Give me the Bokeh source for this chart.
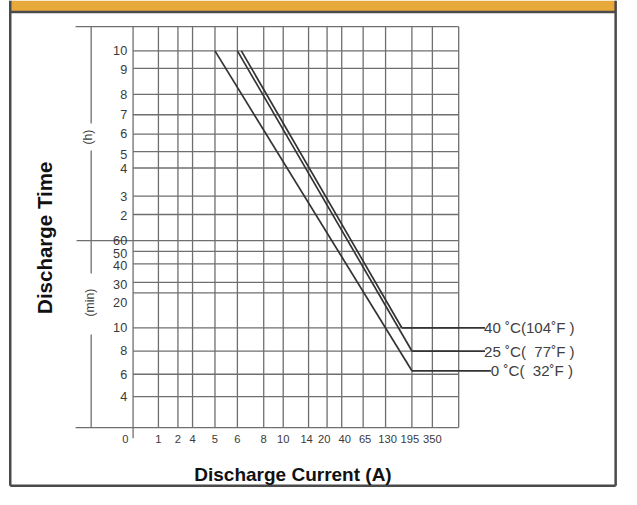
import numpy as np
from bokeh.plotting import figure
from bokeh.models import Range1d
from bokeh.core.properties import value
from bokeh.embed import file_html
from bokeh.resources import INLINE

# ---------------- data ----------------
current_ticks = [0, 1, 2, 4, 5, 6, 8, 10, 14, 20, 40, 65, 130, 195, 350]
current_labels = [str(v) for v in current_ticks]
hour_labels = ["10", "9", "8", "7", "6", "5", "4", "3", "2"]
minute_labels = ["60", "50", "40", "30", "20", "10", "8", "6", "4"]
time_ticks_min = [600, 540, 480, 420, 360, 300, 240, 180, 120,
                  60, 50, 40, 30, 20, 10, 8, 6, 4]

NB = "\u00a0"
series_names = ["40 \u02daC(104\u02daF )",
                "25 \u02daC(" + NB * 2 + "77\u02daF )",
                "0 \u02daC(" + NB * 2 + "32\u02daF )"]
series_current = [[6.3, 170], [6, 195], [5, 195]]
series_time_min = [[600, 10], [600, 8], [600, 6.3]]

# ---------------- layout (reference pixel space) ----------------
grid_x = [136, 162, 182, 197, 220, 243, 270, 290, 316, 335, 350, 372, 395, 422, 443]
grid_right = 470
grid_y = [52, 70, 97, 118, 138, 156, 173, 202, 221,
          248, 259, 272, 291, 302, 338, 362, 386, 409]
grid_top, grid_bottom = 27, 441
x_label_pos = [128, 162, 182, 197, 220, 243, 270, 290, 314, 332, 353, 374, 397, 420, 443]
y_label_pos = [52, 71, 97, 118, 137, 159, 173, 202, 222,
               248, 261, 274, 293, 312, 338, 361, 386, 409]
legend_end_x = [497, 497, 503]
legend_text_x = [496, 496, 503]

W_REF, H_REF = 637, 505
W, H = 621, 489
fs = W / W_REF  # font scale


def px(v):
    return f"{v * fs:.1f}px"


def sx(v):
    return np.interp(v, current_ticks, grid_x)


def sy(t):
    return np.interp(t, time_ticks_min[::-1], grid_y[::-1])


FONT = value("Liberation Sans")
GRID = "#6f6f6f"
DARK = "#333333"
LABEL = "#3a3a3a"

p = figure(width=W, height=H, x_range=Range1d(0, W_REF), y_range=Range1d(H_REF, 0),
           output_backend="svg", toolbar_location=None,
           x_axis_location=None, y_axis_location=None, min_border=0)
p.grid.visible = False
p.outline_line_color = None
p.background_fill_color = "white"
p.border_fill_color = "white"

# header bar and frame
p.quad(left=[10], right=[631], top=[0], bottom=[11], fill_color="#E8A93B", line_color=None)
p.segment(x0=[10, 10, 631, 10], y0=[12, 0, 0, 501], x1=[631, 10, 631, 631], y1=[12, 501, 501, 501],
          line_color="#4a4a4a", line_width=2.5)

# grid
vx = grid_x + [grid_right]
p.segment(x0=vx, y0=[grid_top] * len(vx), x1=vx, y1=[grid_bottom] * len(vx),
          line_color=GRID, line_width=1.3)
p.segment(x0=[grid_x[0]], y0=[grid_bottom], x1=[grid_x[0]], y1=[452],
          line_color=GRID, line_width=1.3)
p.segment(x0=[grid_x[0]] * len(grid_y), y0=grid_y, x1=[grid_right] * len(grid_y), y1=grid_y,
          line_color=GRID, line_width=1.3)
p.segment(x0=[77, 77, 78], y0=[grid_top, grid_bottom, grid_y[9]],
          x1=[grid_right, grid_right, grid_x[0]], y1=[grid_top, grid_bottom, grid_y[9]],
          line_color=GRID, line_width=1.3)
# unit bracket on the left
p.segment(x0=[93, 93, 93], y0=[grid_top, 155, 345], x1=[93, 93, 93], y1=[127, 282, grid_bottom],
          line_color=GRID, line_width=1.3)

# tick labels
y_labels = hour_labels + minute_labels
p.text(x=[130] * len(y_labels), y=y_label_pos, text=y_labels, text_align="right",
       text_baseline="middle", text_font=FONT, text_font_size=px(13), text_color=LABEL)
p.text(x=x_label_pos, y=[453] * len(current_labels), text=current_labels, text_align="center",
       text_baseline="middle", text_font=FONT, text_font_size=px(11.5), text_color=LABEL)

# unit labels
p.text(x=[90, 92], y=[141, 312], text=["(h)", "(min)"], angle=[np.pi / 2] * 2,
       text_align="center", text_baseline="middle", text_font=FONT,
       text_font_size=px(12.5), text_color=LABEL)

# axis titles
p.text(x=[45], y=[245], text=["Discharge Time"], angle=[np.pi / 2], text_align="center",
       text_baseline="middle", text_font=FONT, text_font_style="bold",
       text_font_size=px(21), text_color="#111111")
p.text(x=[300], y=[489], text=["Discharge Current (A)"], text_align="center",
       text_baseline="middle", text_font=FONT, text_font_style="bold",
       text_font_size=px(19.5), text_color="#111111")

# curves with leader lines and labels
for name, cur, tm, ex, tx in zip(series_names, series_current, series_time_min,
                                 legend_end_x, legend_text_x):
    xs = sx(cur)
    ys = sy(tm)
    p.line(x=xs, y=ys, line_color=DARK, line_width=1.7)
    p.line(x=[xs[-1], ex], y=[ys[-1], ys[-1]], line_color=DARK, line_width=1.7)
    p.text(x=[tx], y=[ys[-1]], text=[name], text_align="left", text_baseline="middle",
           text_font=FONT, text_font_size=px(15.5), text_color="#404040")

open("out.html", "w").write(file_html(p, INLINE))
